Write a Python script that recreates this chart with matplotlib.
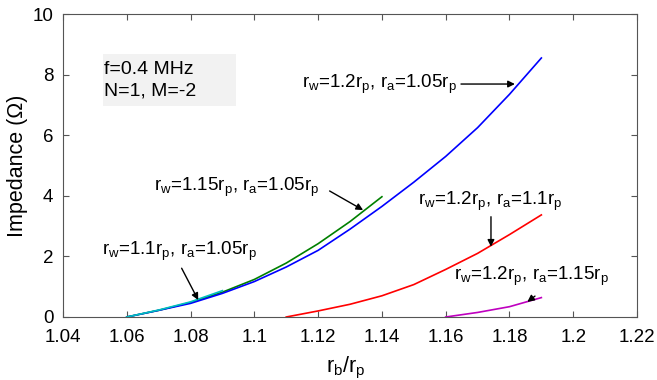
import matplotlib
matplotlib.use("Agg")
import matplotlib.pyplot as plt

plt.rcParams['font.family'] = ['Liberation Sans', 'DejaVu Sans']
plt.rcParams['mathtext.fontset'] = 'custom'
plt.rcParams['mathtext.rm'] = 'Liberation Sans'
plt.rcParams['mathtext.it'] = 'Liberation Sans'
plt.rcParams['mathtext.default'] = 'regular'

# curve data
x_blue = [1.06, 1.07, 1.08, 1.09, 1.10, 1.11, 1.12, 1.13, 1.14, 1.15, 1.16, 1.17, 1.18, 1.19]
y_blue = [0.0, 0.22, 0.45, 0.78, 1.17, 1.65, 2.2, 2.9, 3.65, 4.45, 5.3, 6.25, 7.35, 8.55]

x_green = [1.06, 1.07, 1.08, 1.09, 1.10, 1.11, 1.12, 1.13, 1.14]
y_green = [0.0, 0.22, 0.48, 0.82, 1.24, 1.78, 2.42, 3.15, 3.97]

x_cyan = [1.06, 1.07, 1.08, 1.09]
y_cyan = [0.0, 0.23, 0.5, 0.87]

x_red = [1.11, 1.12, 1.13, 1.14, 1.15, 1.16, 1.17, 1.18, 1.19]
y_red = [0.0, 0.2, 0.42, 0.7, 1.07, 1.57, 2.1, 2.72, 3.37]

x_mag = [1.16, 1.17, 1.18, 1.19]
y_mag = [0.0, 0.15, 0.34, 0.64]

xticks = [1.04, 1.06, 1.08, 1.10, 1.12, 1.14, 1.16, 1.18, 1.20, 1.22]
xtick_labels = ["1.04", "1.06", "1.08", "1.1", "1.12", "1.14", "1.16", "1.18", "1.2", "1.22"]
yticks = [0, 2, 4, 6, 8, 10]

fig = plt.figure(figsize=(6.57, 3.80), dpi=100)
ax = fig.add_axes([0.0959, 0.1658, 0.8737, 0.7972])

ax.plot(x_green, y_green, color=(0, 0.5, 0), lw=1.2)
ax.plot(x_blue, y_blue, color=(0, 0, 1), lw=1.2)
ax.plot(x_cyan, y_cyan, color=(0, 0.75, 0.75), lw=1.2)
ax.plot(x_red, y_red, color=(1, 0, 0), lw=1.2)
ax.plot(x_mag, y_mag, color=(0.75, 0, 0.75), lw=1.2)

ax.set_xlim(1.04, 1.22)
ax.set_ylim(0, 10)
ax.set_xticks(xticks)
ax.set_xticklabels(xtick_labels)
ax.set_yticks(yticks)
ax.tick_params(direction='in', length=4, top=True, right=True, labelsize=13.5,
               color='#555555')
ax.tick_params(axis='x', pad=9)
ax.tick_params(axis='y', pad=7)
for s in ax.spines.values():
    s.set_color('#555555')

ax.set_xlabel(r'$r_b/r_p$', fontsize=15.5)
ax.xaxis.set_label_coords(0.493, -0.125)
ax.set_ylabel('Impedance (Ω)', fontsize=15.5)
ax.yaxis.set_label_coords(-0.061, 0.5)

# parameter box
ax.add_patch(plt.Rectangle((1.0524, 6.96), 0.042, 1.71, facecolor='#f2f2f2',
                           edgecolor='none', zorder=0))
ax.text(1.0529, 8.02, 'f=0.4 MHz', fontsize=14, va='baseline')
ax.text(1.0529, 7.30, 'N=1, M=-2', fontsize=14, va='baseline')

arrow = dict(arrowstyle='-|>', color='black', lw=1.0, mutation_scale=10,
             shrinkA=0, shrinkB=0)
fs = 13.5

ax.text(1.1149, 7.56, r'$r_w$=1.2$r_p$, $r_a$=1.05$r_p$', fontsize=fs, va='baseline')
ax.annotate('', xy=(1.1817, 7.69), xytext=(1.1648, 7.69), arrowprops=arrow)

ax.text(1.0685, 4.16, r'$r_w$=1.15$r_p$, $r_a$=1.05$r_p$', fontsize=fs, va='baseline')
ax.annotate('', xy=(1.1341, 3.53), xytext=(1.1236, 4.16), arrowprops=arrow)

ax.text(1.0521, 2.05, r'$r_w$=1.1$r_p$, $r_a$=1.05$r_p$', fontsize=fs, va='baseline')
ax.annotate('', xy=(1.0824, 0.56), xytext=(1.0772, 1.61), arrowprops=arrow)

ax.text(1.1513, 3.70, r'$r_w$=1.2$r_p$, $r_a$=1.1$r_p$', fontsize=fs, va='baseline')
ax.annotate('', xy=(1.1742, 2.32), xytext=(1.1742, 3.31), arrowprops=arrow)

ax.text(1.1626, 1.22, r'$r_w$=1.2$r_p$, $r_a$=1.15$r_p$', fontsize=fs, va='baseline')
ax.annotate('', xy=(1.1856, 0.50), xytext=(1.1880, 0.69), arrowprops=arrow)

fig.savefig('out.png', dpi=100)
